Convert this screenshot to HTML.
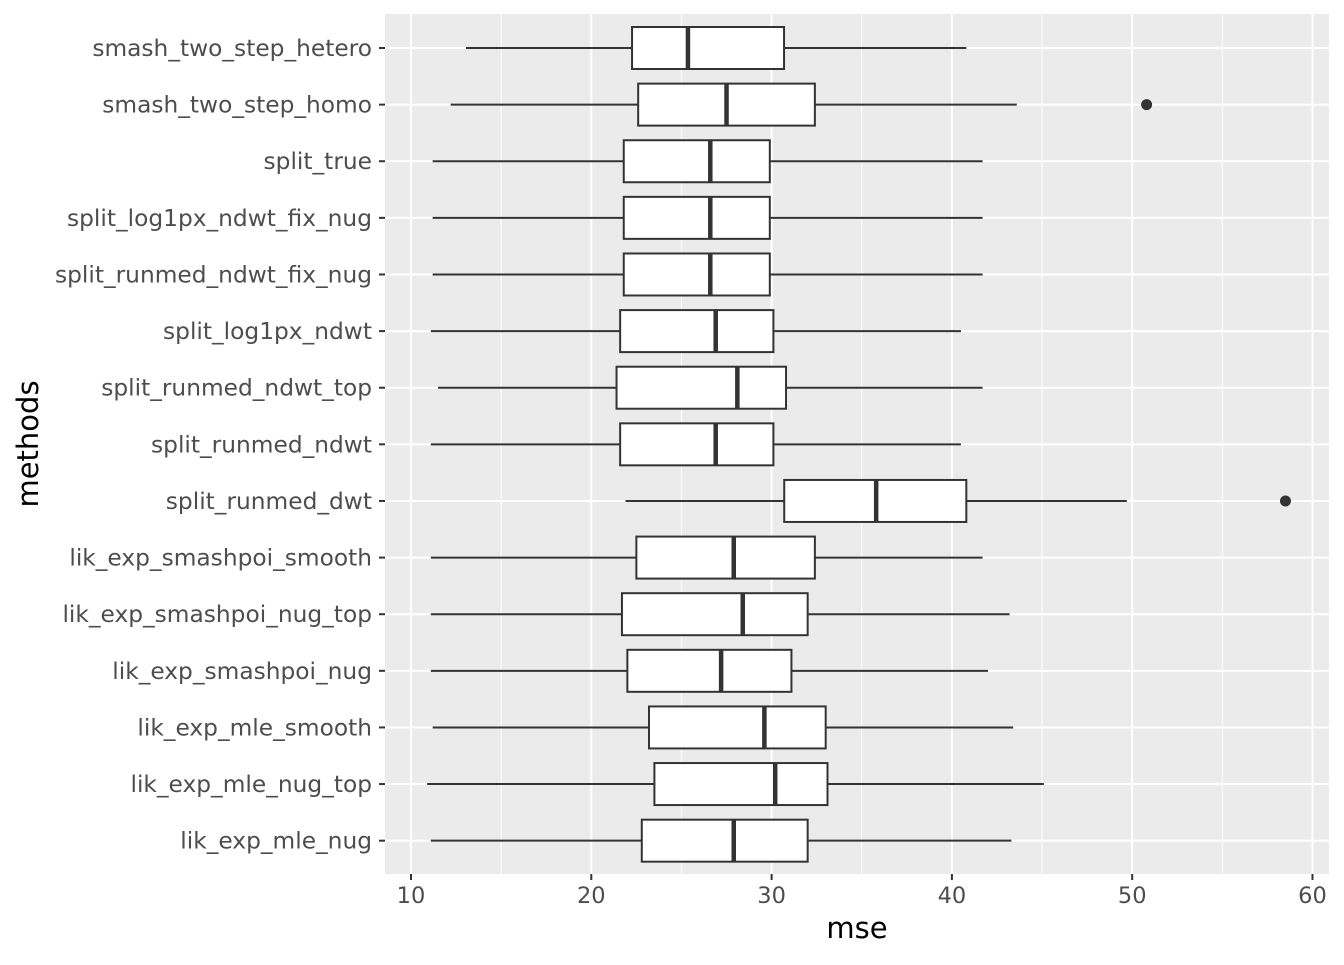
<!DOCTYPE html>
<html><head><meta charset="utf-8"><style>
body{margin:0;background:#fff;width:1344px;height:960px;overflow:hidden}
svg text{font-family:"DejaVu Sans","Liberation Sans",sans-serif}
</style></head><body>
<svg id="chart" width="1344" height="960">
<rect x="385" y="14" width="944" height="860" fill="#ebebeb"/>
<g id="grid"></g><g id="boxes"></g><g id="axes"></g>
<text x="857" y="938" font-size="29" text-anchor="middle" fill="#000">mse</text>
<text transform="translate(38,444) rotate(-90)" font-size="29" text-anchor="middle" fill="#000">methods</text>
</svg>
<script>
const categories=["smash_two_step_hetero","smash_two_step_homo","split_true","split_log1px_ndwt_fix_nug","split_runmed_ndwt_fix_nug","split_log1px_ndwt","split_runmed_ndwt_top","split_runmed_ndwt","split_runmed_dwt","lik_exp_smashpoi_smooth","lik_exp_smashpoi_nug_top","lik_exp_smashpoi_nug","lik_exp_mle_smooth","lik_exp_mle_nug_top","lik_exp_mle_nug"];
const whiskerLow=[13.05,12.2,11.2,11.2,11.2,11.1,11.5,11.1,21.9,11.1,11.1,11.1,11.2,10.9,11.1];
const q1=[22.26,22.6,21.8,21.8,21.8,21.6,21.4,21.6,30.7,22.5,21.7,22.0,23.2,23.5,22.8];
const median=[25.36,27.5,26.6,26.6,26.6,26.9,28.1,26.9,35.8,27.9,28.4,27.2,29.6,30.2,27.9];
const q3=[30.69,32.4,29.9,29.9,29.9,30.1,30.8,30.1,40.8,32.4,32.0,31.1,33.0,33.1,32.0];
const whiskerHigh=[40.8,43.6,41.7,41.7,41.7,40.5,41.7,40.5,49.7,41.7,43.2,42.0,43.4,45.1,43.3];
const outlierCat=[1,8];
const outlierVal=[50.8,58.5];
const xTicks=[10,20,30,40,50,60];
const NS="http://www.w3.org/2000/svg";
const x=v=>411+(v-10)*18.03;
const y=i=>48+i*56.62;
function mk(tag,attrs,parent){const e=document.createElementNS(NS,tag);for(const k in attrs)e.setAttribute(k,attrs[k]);parent.appendChild(e);return e;}
const grid=document.getElementById('grid'),boxes=document.getElementById('boxes'),axes=document.getElementById('axes');
for(let t=10;t<=55;t+=5){if(t%10){const l=mk('line',{x1:x(t),x2:x(t),y1:14,y2:874,stroke:'#fff','stroke-width':1},grid);}}
xTicks.forEach(t=>{const l=mk('line',{x1:x(t),x2:x(t),y1:14,y2:874,stroke:'#fff','stroke-width':2},grid);

const tk=mk('line',{x1:x(t),x2:x(t),y1:874,y2:880,stroke:'#333','stroke-width':2},axes);

const tx=mk('text',{x:x(t),y:903,'font-size':22.5,'text-anchor':'middle',fill:'#4d4d4d'},axes);tx.textContent=t;
});
categories.forEach((c,i)=>{const yy=y(i);
const g=mk('line',{x1:385,x2:1329,y1:yy,y2:yy,stroke:'#fff','stroke-width':2},grid);

const tk=mk('line',{x1:379,x2:385,y1:yy,y2:yy,stroke:'#333','stroke-width':2},axes);

const tx=mk('text',{x:372,y:yy+8,'font-size':23.3,'text-anchor':'end',fill:'#4d4d4d'},axes);tx.textContent=c;

const w1=mk('line',{x1:x(whiskerLow[i]),x2:x(q1[i]),y1:yy,y2:yy,stroke:'#333','stroke-width':2},boxes);

const w2=mk('line',{x1:x(q3[i]),x2:x(whiskerHigh[i]),y1:yy,y2:yy,stroke:'#333','stroke-width':2},boxes);

const b=mk('rect',{x:x(q1[i]),y:yy-21,width:x(q3[i])-x(q1[i]),height:42,fill:'#fff',stroke:'#333','stroke-width':2},boxes);

const m=mk('line',{x1:x(median[i]),x2:x(median[i]),y1:yy-21,y2:yy+21,stroke:'#333','stroke-width':4.5},boxes);
});
outlierCat.forEach((ci,k)=>{const p=mk('circle',{cx:x(outlierVal[k]),cy:y(ci),r:5.5,fill:'#333'},boxes);
});
</script>
</body></html>
